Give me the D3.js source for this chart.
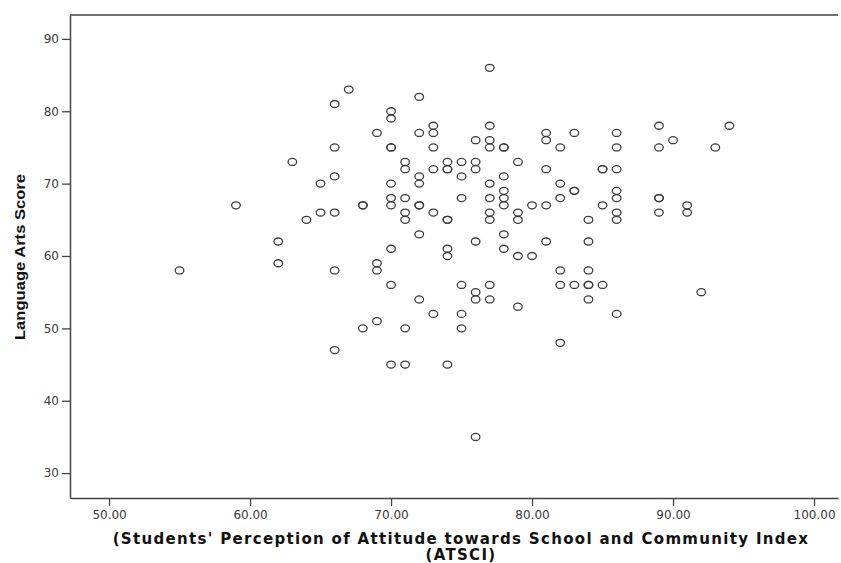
<!DOCTYPE html>
<html>
<head>
<meta charset="utf-8">
<script src="https://cdn.jsdelivr.net/npm/d3@7/dist/d3.min.js"></script>
<style>
  html, body { margin: 0; padding: 0; background: #fff; }
  svg { display: block; }
</style>
</head>
<body>
<svg id="chart" width="841" height="563"></svg>
<script>
// ATSCI index (x) and Language Arts score (y) for each student
const atsci = [
  55, 59, 62, 62, 63, 64, 65, 65,
  66, 66, 66, 66, 66, 66, 67, 68, 68, 68,
  69, 69, 69, 69,
  70, 70, 70, 70, 70, 70, 70, 70, 70, 70,
  71, 71, 71, 71, 71, 71, 71,
  72, 72, 72, 72, 72, 72, 72, 72,
  73, 73, 73, 73, 73, 73,
  74, 74, 74, 74, 74, 74, 74, 74,
  75, 75, 75, 75, 75, 75,
  76, 76, 76, 76, 76, 76, 76,
  77, 77, 77, 77, 77, 77, 77, 77, 77, 77,
  78, 78, 78, 78, 78, 78, 78, 78,
  79, 79, 79, 79, 79,
  80, 80,
  81, 81, 81, 81, 81,
  82, 82, 82, 82, 82, 82,
  83, 83, 83, 83,
  84, 84, 84, 84, 84, 84,
  85, 85, 85, 85,
  86, 86, 86, 86, 86, 86, 86, 86,
  89, 89, 89, 89, 89,
  90, 91, 91, 92, 93, 94
];
const languageArts = [
  58, 67, 62, 59, 73, 65, 70, 66,
  81, 75, 71, 66, 58, 47, 83, 67, 67, 50,
  77, 59, 58, 51,
  80, 79, 75, 75, 70, 68, 67, 61, 56, 45,
  73, 72, 68, 66, 65, 50, 45,
  82, 77, 71, 70, 67, 67, 63, 54,
  78, 77, 75, 72, 66, 52,
  73, 72, 72, 65, 65, 61, 60, 45,
  73, 71, 68, 56, 52, 50,
  76, 73, 72, 62, 55, 54, 35,
  86, 78, 76, 75, 70, 68, 66, 65, 56, 54,
  75, 75, 71, 69, 68, 67, 63, 61,
  73, 66, 65, 60, 53,
  67, 60,
  77, 76, 72, 67, 62,
  75, 70, 68, 58, 56, 48,
  77, 69, 69, 56,
  65, 62, 58, 56, 56, 54,
  72, 72, 67, 56,
  77, 75, 72, 69, 68, 66, 65, 52,
  78, 75, 68, 68, 66,
  76, 67, 66, 55, 75, 78
];
const xTicks = [50, 60, 70, 80, 90, 100];
const yTicks = [30, 40, 50, 60, 70, 80, 90];
const xTitle = ["(Students' Perception of Attitude towards School and Community Index", "(ATSCI)"];
const yTitle = "Language Arts Score";

const svg = d3.select("#chart");
const frame = { left: 70, right: 838, top: 15, bottom: 498 };

const x = d3.scaleLinear().domain([47.23, 101.7]).range([frame.left, frame.right]);
const y = d3.scaleLinear().domain([26.56, 93.3]).range([frame.bottom, frame.top]);

const axisColor = "#444";
const tickFont = "'DejaVu Sans', Verdana, sans-serif";
const xTitleFont = "'DejaVu Sans', Verdana, sans-serif";
const yTitleFont = "'Liberation Sans', Arial, sans-serif";

// Top border of the plot frame
svg.append("line")
  .attr("x1", frame.left).attr("x2", frame.right)
  .attr("y1", frame.top).attr("y2", frame.top)
  .attr("stroke", axisColor).attr("stroke-width", 1.5);

// Bottom axis
const gx = svg.append("g")
  .attr("transform", `translate(0,${frame.bottom})`)
  .call(d3.axisBottom(x).tickValues(xTicks).tickSize(8).tickSizeOuter(0).tickPadding(4)
    .tickFormat(d3.format(".2f")));
// Left axis
const gy = svg.append("g")
  .attr("transform", `translate(${frame.left},0)`)
  .call(d3.axisLeft(y).tickValues(yTicks).tickSize(8).tickSizeOuter(0).tickPadding(3)
    .tickFormat(d3.format("d")));

[gx, gy].forEach(g => {
  g.select(".domain").attr("stroke", axisColor).attr("stroke-width", 1.5);
  g.selectAll(".tick line").attr("stroke", axisColor).attr("stroke-width", 1.3);
  g.selectAll(".tick text")
    .attr("fill", "#3a3a3a")
    .style("font-family", tickFont)
    .style("font-size", "12px");
});

// Scatter markers: open ellipses
svg.append("g")
  .selectAll("ellipse")
  .data(atsci.map((v, i) => [v, languageArts[i]]))
  .join("ellipse")
  .attr("cx", d => x(d[0]))
  .attr("cy", d => y(d[1]))
  .attr("rx", 4.3)
  .attr("ry", 3.5)
  .attr("fill", "none")
  .attr("stroke", "#3c3c3c")
  .attr("stroke-width", 1.3);

// X axis title (two lines, bold, slightly tracked so line one spans ~697px)
const xt = svg.append("text")
  .attr("text-anchor", "middle")
  .attr("fill", "#111")
  .style("font-family", xTitleFont)
  .style("font-weight", "bold")
  .style("font-size", "15px");
const line1 = xt.append("tspan").attr("x", 461).attr("y", 544).text(xTitle[0]);
xt.append("tspan").attr("x", 461).attr("y", 560).text(xTitle[1]);
const w0 = line1.node().getComputedTextLength();
const track = Math.max(0, (697 - w0) / xTitle[0].length);
xt.style("letter-spacing", track.toFixed(2) + "px");

// Y axis title (rotated, bold)
svg.append("text")
  .attr("transform", "translate(25,257) rotate(-90)")
  .attr("text-anchor", "middle")
  .attr("fill", "#111")
  .style("font-family", yTitleFont)
  .style("font-weight", "bold")
  .style("font-size", "15px")
  .attr("textLength", 166)
  .attr("lengthAdjust", "spacingAndGlyphs")
  .text(yTitle);
</script>
</body>
</html>
